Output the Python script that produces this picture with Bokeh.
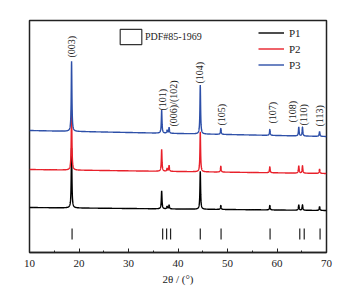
import numpy as np
from bokeh.plotting import figure
from bokeh.models import Legend, LegendItem, FixedTicker
from bokeh.core.properties import value
from bokeh.embed import file_html
from bokeh.resources import INLINE

# ---- data ----
peak_pos = [18.5, 36.7, 37.8, 38.2, 44.5, 48.65, 58.55, 64.4, 65.15, 68.6]
# peak heights (arbitrary units ~ pixels) per sample
h_p1 = [60, 18, 2.5, 4, 38, 4, 4.5, 5.5, 5.5, 4]
h_p2 = [60, 22, 3, 6, 40, 6, 6, 7.5, 7.5, 4.5]
h_p3 = [70, 23, 3, 6, 49, 6, 6, 9, 9, 5]
# baseline levels (start at 10 deg, end at 70 deg)
base_p1 = [45, 42]
base_p2 = [83, 79]
base_p3 = [122, 116]
series_names = ["P1", "P2", "P3"]
series_colors = ["#000000", "#e8202a", "#2d4fa8"]

# reference pattern PDF#85-1969 line positions
ref_pos = [18.6, 36.9, 37.7, 38.5, 44.5, 48.7, 58.6, 64.6, 65.5, 68.7]

hkl_text = ["(003)", "(101)", "(006)/(102)", "(104)", "(105)", "(107)", "(108)", "(110)", "(113)"]
hkl_x = [18.5, 36.95, 39.1, 44.4, 48.7, 59.0, 63.1, 65.3, 68.5]
hkl_y = [195, 142, 126, 169, 127, 129, 130, 127, 126]

x_ticks = [10, 20, 30, 40, 50, 60, 70]
x_title = "2θ / (°)"

# ---- build profiles from peak list ----
tt = np.arange(10, 70.0001, 0.02)
fwhm = 0.16


def pattern(heights, base):
    y = base[0] + (base[1] - base[0]) * (tt - 10) / 60.0
    for c, h in zip(peak_pos, heights):
        y = y + h / (1 + ((tt - c) / (fwhm / 2)) ** 2)
    return y


p = figure(width=353, height=293, x_range=(10, 70), y_range=(0, 232),
           output_backend="svg", toolbar_location=None,
           min_border_left=29, min_border_right=27, min_border_top=20, min_border_bottom=41)
p.xgrid.visible = False
p.ygrid.visible = False
p.yaxis.visible = False
p.outline_line_color = "#222222"
p.outline_line_width = 1.5
p.background_fill_color = "white"
p.border_fill_color = "white"

xa = p.xaxis[0]
xa.ticker = FixedTicker(ticks=x_ticks, minor_ticks=[15, 25, 35, 45, 55, 65])
xa.major_tick_in = 4
xa.major_tick_out = 0
xa.minor_tick_in = 2
xa.minor_tick_out = 0
xa.axis_line_width = 1.5
xa.axis_line_color = "#222222"
xa.major_tick_line_color = "#222222"
xa.minor_tick_line_color = "#222222"
xa.major_label_text_font = "Liberation Serif"
xa.major_label_text_font_size = "11px"
xa.major_label_text_color = "#222222"
xa.major_label_standoff = 7
xa.axis_label = x_title
xa.axis_label_text_font = "Liberation Serif"
xa.axis_label_text_font_size = "11px"
xa.axis_label_text_font_style = "normal"
xa.axis_label_text_color = "#222222"
xa.axis_label_standoff = 3

renderers = []
for name, hs, b, col in zip(series_names, [h_p1, h_p2, h_p3], [base_p1, base_p2, base_p3], series_colors):
    r = p.line(tt, pattern(hs, b), line_color=col, line_width=1.4)
    renderers.append(r)

# reference lines
p.segment(x0=ref_pos, y0=13, x1=ref_pos, y1=24, line_color="#222222", line_width=1.2)

# hkl labels
p.text(x=hkl_x, y=hkl_y, text=hkl_text, angle=np.pi / 2, text_align="left",
       text_baseline="middle", text_font=value("Liberation Serif"),
       text_font_size="10px", text_color="#222222")

# legend for samples
leg = Legend(items=[LegendItem(label=n, renderers=[r]) for n, r in zip(series_names, renderers)],
             location=(229, 180), glyph_width=26, glyph_height=15, label_height=15,
             spacing=1, padding=0, margin=0, label_standoff=5,
             label_text_font="Liberation Serif", label_text_font_size="11px",
             label_text_color="#222222",
             border_line_alpha=0, background_fill_alpha=0)
p.add_layout(leg)

# legend for reference pattern (open box); renderer sits outside the view
dummy = p.quad(left=[0], right=[1], top=[-20], bottom=[-30], fill_color="white", fill_alpha=0,
               line_color="#333333", line_width=1.2)
leg2 = Legend(items=[LegendItem(label="PDF#85-1969", renderers=[dummy], index=0)],
              location=(88, 206), glyph_width=27, glyph_height=19, label_height=19,
              padding=0, margin=0, label_standoff=1,
              label_text_font="Liberation Serif", label_text_font_size="10px",
              label_text_color="#222222",
              border_line_alpha=0, background_fill_alpha=0)
p.add_layout(leg2)

open("out.html", "w").write(file_html(p, INLINE))
